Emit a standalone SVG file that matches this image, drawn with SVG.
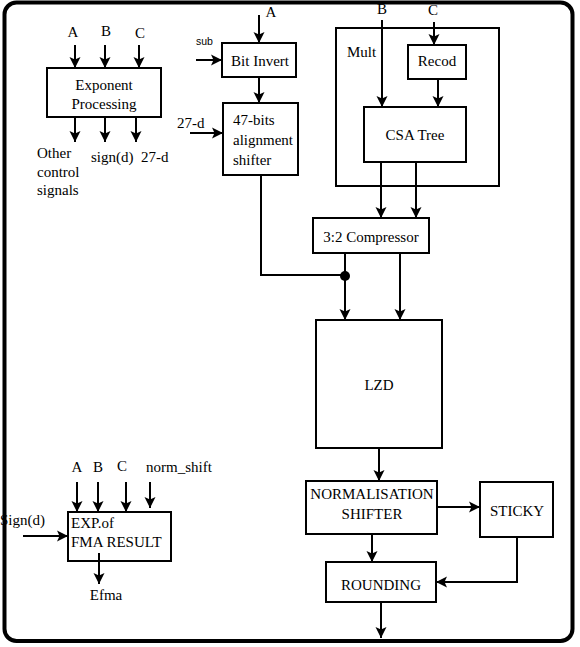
<svg xmlns="http://www.w3.org/2000/svg" width="580" height="647" viewBox="0 0 580 647">
<defs>
<marker id="ah" markerWidth="12" markerHeight="12" refX="11" refY="6" orient="auto" markerUnits="userSpaceOnUse">
<path d="M0,0.5 L11,6 L0,11.5 L2.5,6 Z" fill="#000"/>
</marker>
<style>
.box{fill:#fff;stroke:#000;stroke-width:2}
.t{font-family:'Liberation Serif','DejaVu Serif',serif;font-size:15px;fill:#000}
.c{text-anchor:middle}
.s{font-family:'Liberation Sans','DejaVu Sans',sans-serif;font-size:10.5px;fill:#000}
.w{fill:none;stroke:#000;stroke-width:2}
.a{fill:none;stroke:#000;stroke-width:2;marker-end:url(#ah)}
</style>
</defs>
<rect x="0" y="0" width="580" height="647" fill="#fff"/>

<g id="exponent-processing">
<rect class="box" x="47" y="68" width="114" height="49"/>
<text class="t c" x="104" y="90">Exponent</text>
<text class="t c" x="104" y="109">Processing</text>
<text class="t c" x="73" y="37">A</text>
<text class="t c" x="106" y="36">B</text>
<text class="t c" x="140" y="38">C</text>
<text class="t" x="37" y="158">Other</text>
<text class="t" x="37" y="177">control</text>
<text class="t" x="37" y="195">signals</text>
<text class="t" x="91" y="162">sign(d)</text>
<text class="t" x="141" y="162">27-d</text>
</g>

<g id="bit-invert">
<rect class="box" x="222" y="43" width="74" height="34"/>
<text class="t c" x="260" y="66">Bit Invert</text>
<text class="t c" x="271" y="17">A</text>
<text class="s" x="196" y="45">sub</text>
</g>

<g id="alignment-shifter">
<rect class="box" x="223" y="103" width="75" height="72"/>
<text class="t" x="233" y="125">47-bits</text>
<text class="t" x="233" y="145">alignment</text>
<text class="t" x="233" y="165">shifter</text>
<text class="t" x="177" y="128">27-d</text>
</g>

<g id="mult">
<rect class="box" x="336" y="28" width="163" height="158"/>
<text class="t" x="347" y="57">Mult</text>
<text class="t c" x="382" y="14">B</text>
<text class="t c" x="433" y="15">C</text>
</g>

<g id="recod">
<rect class="box" x="408" y="45" width="58" height="34"/>
<text class="t c" x="437" y="66">Recod</text>
</g>

<g id="csa-tree">
<rect class="box" x="364" y="107" width="102" height="55"/>
<text class="t c" x="415" y="140">CSA Tree</text>
</g>

<g id="compressor">
<rect class="box" x="313" y="218" width="116" height="35"/>
<text class="t c" x="371" y="242">3:2 Compressor</text>
</g>

<g id="lzd">
<rect class="box" x="316" y="320" width="126" height="128"/>
<text class="t c" x="379" y="390">LZD</text>
</g>

<g id="normalisation-shifter">
<rect class="box" x="306" y="481" width="131" height="53"/>
<text class="t c" x="372" y="499">NORMALISATION</text>
<text class="t c" x="372" y="519">SHIFTER</text>
</g>

<g id="sticky">
<rect class="box" x="480" y="482" width="73" height="55"/>
<text class="t c" x="517" y="516">STICKY</text>
</g>

<g id="rounding">
<rect class="box" x="326" y="562" width="110" height="40"/>
<text class="t c" x="381" y="590">ROUNDING</text>
</g>

<g id="exp-fma-result">
<rect class="box" x="68" y="512" width="103" height="49"/>
<text class="t" x="71" y="528">EXP.of</text>
<text class="t" x="71" y="547">FMA RESULT</text>
<text class="t c" x="77" y="472">A</text>
<text class="t c" x="98" y="472">B</text>
<text class="t c" x="122" y="471">C</text>
<text class="t" x="146" y="472">norm_shift</text>
<text class="t" x="0" y="525">Sign(d)</text>
<text class="t c" x="106" y="600">Efma</text>
</g>

<g id="connectors">
<line class="a" x1="75" y1="45" x2="75" y2="68"/>
<line class="a" x1="105" y1="45" x2="105" y2="68"/>
<line class="a" x1="139" y1="45" x2="139" y2="68"/>
<line class="a" x1="75" y1="117" x2="75" y2="142"/>
<line class="a" x1="105" y1="117" x2="105" y2="142"/>
<line class="a" x1="136" y1="117" x2="136" y2="142"/>

<line class="a" x1="259" y1="15" x2="259" y2="43"/>
<line class="a" x1="196" y1="60" x2="222" y2="60"/>
<line class="a" x1="259" y1="77" x2="259" y2="103"/>
<line class="a" x1="190" y1="133" x2="223" y2="133"/>

<line class="a" x1="382" y1="20" x2="382" y2="107"/>
<line class="a" x1="434" y1="22" x2="434" y2="45"/>
<line class="a" x1="438" y1="79" x2="438" y2="107"/>
<line class="a" x1="381" y1="162" x2="381" y2="218"/>
<line class="a" x1="416" y1="162" x2="416" y2="218"/>

<polyline class="w" points="261,175 261,275 345,275"/>
<circle cx="345" cy="276" r="5" fill="#000"/>
<line class="a" x1="345" y1="253" x2="345" y2="320"/>
<line class="a" x1="400" y1="253" x2="400" y2="320"/>

<line class="a" x1="379" y1="448" x2="379" y2="481"/>
<line class="a" x1="437" y1="507" x2="480" y2="507"/>
<line class="a" x1="372" y1="534" x2="372" y2="562"/>
<polyline class="a" points="517,537 517,582 436,582"/>
<line class="a" x1="381" y1="602" x2="381" y2="638"/>

<line class="a" x1="77" y1="482" x2="77" y2="512"/>
<line class="a" x1="98" y1="482" x2="98" y2="512"/>
<line class="a" x1="126" y1="482" x2="126" y2="512"/>
<line class="a" x1="150" y1="482" x2="150" y2="508"/>
<line class="a" x1="23" y1="536" x2="68" y2="536"/>
<line class="a" x1="99" y1="553" x2="99" y2="584"/>
</g>

<rect x="4.5" y="2.5" width="568" height="638.5" rx="12" fill="none" stroke="#000" stroke-width="4"/>
</svg>
